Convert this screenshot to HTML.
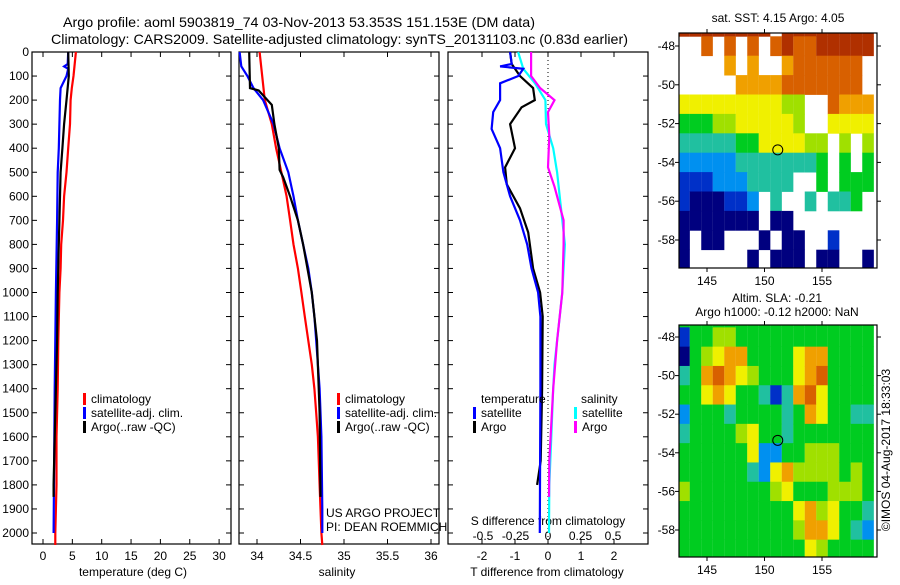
<!DOCTYPE html>
<html><head><meta charset="utf-8"><style>
body{margin:0;background:#fff;width:900px;height:580px;overflow:hidden}
svg text{font-family:"Liberation Sans",sans-serif;font-size:12px;fill:#000}
</style></head><body>
<svg id="chart" width="900" height="580" viewBox="0 0 900 580" xmlns="http://www.w3.org/2000/svg">
<text x="63" y="27" textLength="472" lengthAdjust="spacingAndGlyphs" style="font-size:14px">Argo profile: aoml 5903819_74 03-Nov-2013 53.353S 151.153E (DM data)</text>
<text x="51" y="44" textLength="577" lengthAdjust="spacingAndGlyphs" style="font-size:14px">Climatology: CARS2009. Satellite-adjusted climatology: synTS_20131103.nc (0.83d earlier)</text>
<g id="g"></g>
</svg>
<script>
// ---- data ----
const tDepth=[0,50,100,150,200,300,400,500,600,700,800,900,1000,1200,1400,1600,1800,2000,2050];
const tClim=[5.6,5.4,5.2,4.9,4.7,4.6,4.3,4.0,3.6,3.4,3.1,3.0,2.8,2.6,2.5,2.3,2.3,2.1,2.1];
const tSatDepth=[0,50,60,70,100,150,200,300,400,500,700,1000,1400,2000];
const tSat=[4.3,4.2,3.6,4.3,4.0,3.0,2.9,2.8,2.7,2.5,2.4,2.2,2.0,1.8];
const tArgoDepth=[0,100,200,300,400,500,600,800,1000,1200,1600,1800,1850];
const tArgo=[4.3,4.4,4.0,3.6,3.3,3.0,2.9,2.7,2.5,2.4,2.0,1.8,1.8];
const sClimDepth=[0,200,300,400,500,600,700,800,900,1000,1100,1200,1300,1400,1500,1600,1800,2000,2050];
const sClim=[34.03,34.09,34.17,34.22,34.28,34.34,34.38,34.42,34.47,34.51,34.55,34.59,34.63,34.66,34.68,34.70,34.72,34.74,34.75];
const sSatDepth=[0,60,100,150,200,300,400,500,600,700,800,900,1000,1100,1200,1400,1600,1900,2000];
const sSat=[33.80,33.82,33.89,33.96,34.07,34.19,34.26,34.36,34.42,34.47,34.53,34.59,34.63,34.66,34.68,34.72,34.74,34.75,34.75];
const sArgoDepth=[0,150,160,220,300,400,490,520,600,700,800,1000,1200,1500,1850];
const sArgo=[33.91,33.92,34.02,34.17,34.20,34.25,34.26,34.30,34.38,34.47,34.53,34.63,34.69,34.72,34.73];
const dTSatDepth=[0,50,60,70,100,130,200,250,320,400,500,600,700,800,900,1000,1100,1400,2000];
const dTSat=[-1.15,-1.1,-1.45,-0.75,-0.9,-1.45,-1.45,-1.66,-1.71,-1.45,-1.35,-1.15,-0.85,-0.63,-0.5,-0.3,-0.23,-0.23,-0.25];
const dTArgoDepth=[0,50,100,150,200,230,300,400,480,550,650,750,900,1000,1100,1400,1700,1800];
const dTArgo=[-1.15,-1.1,-0.85,-0.45,-0.4,-0.8,-1.15,-1.0,-1.3,-1.25,-0.85,-0.6,-0.45,-0.24,-0.16,-0.18,-0.22,-0.33];
const dSSatDepth=[0,70,130,200,300,400,500,600,700,800,900,1000,1100,1200,1300,1400,1600,1800,2000];
const dSSat=[-0.23,-0.19,-0.1,-0.02,-0.015,0.04,0.07,0.09,0.11,0.13,0.12,0.11,0.09,0.07,0.05,0.04,0.025,0.01,0.008];
const dSArgoDepth=[0,100,150,200,250,350,480,560,700,800,1000,1200,1400,1700,1850];
const dSArgo=[-0.13,-0.13,-0.06,0.05,0,0.01,0,0.05,0.12,0.12,0.11,0.07,0.04,0.01,0.008];
const depthTicks=[0,100,200,300,400,500,600,700,800,900,1000,1100,1200,1300,1400,1500,1600,1700,1800,1900,2000];
const tTicks=[0,5,10,15,20,25,30];
const sTicks=[34,34.5,35,35.5,36];
const sTickLabels=["34","34.5","35","35.5","36"];
const dTTicks=[-2,-1,0,1,2];
const dSTicks=[-0.5,-0.25,0,0.25,0.5];
const dSTickLabels=["-0.5","-0.25","0","0.25","0.5"];
const lonTicks=[145,150,155];
const latTicks=[-48,-50,-52,-54,-56,-58];
const mapLons=[143,144,145,146,147,148,149,150,151,152,153,154,155,156,157,158,159];
const mapLats=[-47,-48,-49,-50,-51,-52,-53,-54,-55,-56,-57,-58,-59];
const sstGrid=[
"99999999.99999999",
"..8.8.8.898899999",
"....7.7..7888888.",
".....77778888888.",
"66666666655..8777",
"44455666665..6666",
"3333344666655.5.5",
"2222233333334.4.4",
"1112223333..4.444",
"1000112.3..3.334.",
"0000000.00.......",
"0.00...0.00..1...",
"0.....0.000.00..0"];
const slaGrid=[
"44444444444444444",
"14455444444444444",
"04567744446774444",
"34787654446784444",
"44676443137864444",
"24443444434764433",
"34444564434444444",
"44444462244555444",
"44444432675555454",
"54444444564445554",
"44444444446756443",
"44444444445776432",
"44444444444654444"];
const argoLon=151.153, argoLat=-53.353;

// ---- helpers ----
const NS="http://www.w3.org/2000/svg";
const G=document.getElementById('g');
function mk(tag,attrs,parent){const e=document.createElementNS(NS,tag);for(const k in attrs)e.setAttribute(k,attrs[k]);(parent||G).appendChild(e);return e;}
const Y0=52,YPX=0.2405;
const yD=d=>Y0+d*YPX;
const TOP=52,BOT=544;
const xT=t=>43+t*5.87;
const xS=s=>257+(s-34)*87;
const xDT=t=>548+t*33;
const xDS=s=>548+s*130;
function line(xs,ds,xf,color,name){
  const pts=xs.map((v,i)=>xf(v).toFixed(1)+','+yD(ds[i]).toFixed(1)).join(' ');
  const p=mk('polyline',{points:pts,fill:'none',stroke:color,'stroke-width':2.2});
  
  
}
function frame(x0,x1,name){
  const r=mk('rect',{x:x0,y:TOP,width:x1-x0,height:BOT-TOP,fill:'none',stroke:'#000','stroke-width':1.2});
  
  
  depthTicks.forEach(d=>{mk('line',{x1:x0,x2:x0+5,y1:yD(d),y2:yD(d),stroke:'#000'});mk('line',{x1:x1-5,x2:x1,y1:yD(d),y2:yD(d),stroke:'#000'});});
}
function xticks(vals,labels,xf,y,name){
  vals.forEach((v,i)=>{
    mk('line',{x1:xf(v),x2:xf(v),y1:TOP,y2:TOP+5,stroke:'#000'});
    mk('line',{x1:xf(v),x2:xf(v),y1:BOT-5,y2:BOT,stroke:'#000'});
    const t=mk('text',{x:xf(v),y:y,'text-anchor':'middle'});t.textContent=labels[i];
    
    
  });
}
function txt(x,y,s,name,anchor,extra){const t=mk('text',Object.assign({x:x,y:y,'text-anchor':anchor||'start'},extra||{}));t.textContent=s;
  
  return t;}
function legend(x,y,color,label,name){
  mk('rect',{x:x,y:y-10,width:3,height:12,fill:color});
  txt(x+8,y,label,name);
}

// y labels
depthTicks.forEach(d=>{txt(29,yD(d)+4,String(d),'depth-tick-label','end');});

// panel 1
frame(32,231,'temperature-panel');
xticks(tTicks,tTicks.map(String),xT,560,'temperature-tick-label');
txt(133,576,'temperature (deg C)','temperature-axis-title','middle');
line(tClim,tDepth,xT,'#f00','temp-climatology-line');
line(tSat,tSatDepth,xT,'#00f','temp-satellite-line');
line(tArgo,tArgoDepth,xT,'#000','temp-argo-line');
legend(83,403,'#f00','climatology','legend-climatology');
legend(83,417,'#00f','satellite-adj. clim.','legend-satellite');
legend(83,431,'#000','Argo(..raw -QC)','legend-argo');

// panel 2
frame(239,439,'salinity-panel');
xticks(sTicks,sTickLabels,xS,560,'salinity-tick-label');
txt(337,576,'salinity','salinity-axis-title','middle');
line(sClim,sClimDepth,xS,'#f00','sal-climatology-line');
line(sSat,sSatDepth,xS,'#00f','sal-satellite-line');
line(sArgo,sArgoDepth,xS,'#000','sal-argo-line');
legend(337,403,'#f00','climatology','legend-climatology');
legend(337,417,'#00f','satellite-adj. clim.','legend-satellite');
legend(337,431,'#000','Argo(..raw -QC)','legend-argo');
txt(326,517,'US ARGO PROJECT','project-credit');
txt(326,531,'PI: DEAN ROEMMICH','pi-credit');

// panel 3
frame(448,648,'difference-panel');
mk('line',{x1:548,x2:548,y1:TOP,y2:BOT,stroke:'#000','stroke-dasharray':'1,3'});
dTTicks.forEach(v=>{mk('line',{x1:xDT(v),x2:xDT(v),y1:TOP,y2:TOP+5,stroke:'#000'});mk('line',{x1:xDT(v),x2:xDT(v),y1:BOT-5,y2:BOT,stroke:'#000'});txt(xDT(v),560,String(v),'t-diff-tick-label','middle');});
dSTicks.forEach((v,i)=>{txt(xDS(v),540,dSTickLabels[i],'s-diff-tick-label','middle');});
txt(548,525,'S difference from climatology','s-diff-axis-title','middle');
txt(547,576,'T difference from climatology','t-diff-axis-title','middle');
line(dSSat,dSSatDepth,xDS,'#0ff','sdiff-satellite-line');
line(dSArgo,dSArgoDepth,xDS,'#f0f','sdiff-argo-line');
line(dTArgo,dTArgoDepth,xDT,'#000','tdiff-argo-line');
line(dTSat,dTSatDepth,xDT,'#00f','tdiff-satellite-line');
txt(481,403,'temperature','legend-temperature-heading');
legend(473,417,'#00f','satellite','legend-t-satellite');
legend(473,431,'#000','Argo','legend-t-argo');
txt(581,403,'salinity','legend-salinity-heading');
legend(574,417,'#0ff','satellite','legend-s-satellite');
legend(574,431,'#f0f','Argo','legend-s-argo');

// maps
const cmap=['#00007f','#0030c8','#0090f0','#20c0a0','#00cc20','#a0e000','#f0f000','#f0a000','#d86000','#b03000'];
function map(grid,x0,x1,y0,y1,latY,latS,name){
  const lx=lon=>707+(lon-145)*11.5;
  const ly=lat=>latY+(-48-lat)*latS;
  const clip='clip-'+name;
  const cp=mk('clipPath',{id:clip});mk('rect',{x:x0,y:y0,width:x1-x0,height:y1-y0},cp);
  const g=mk('g',{'clip-path':'url(#'+clip+')'});
  
  
  grid.forEach((row,r)=>{for(let c=0;c<row.length;c++){const ch=row[c];if(ch==='.')continue;
    mk('rect',{x:lx(mapLons[c]-0.5),y:ly(mapLats[r]+0.5),width:11.6,height:latS+0.4,fill:cmap[+ch]},g);}});
  const f=mk('rect',{x:x0,y:y0,width:x1-x0,height:y1-y0,fill:'none',stroke:'#000','stroke-width':1.2});
  
  
  lonTicks.forEach(v=>{mk('line',{x1:lx(v),x2:lx(v),y1:y1,y2:y1+4,stroke:'#000'});mk('line',{x1:lx(v),x2:lx(v),y1:y0-4,y2:y0,stroke:'#000'});txt(lx(v),y1+17,String(v),'lon-tick-label','middle');});
  latTicks.forEach(v=>{mk('line',{x1:x0-4,x2:x0,y1:ly(v),y2:ly(v),stroke:'#000'});mk('line',{x1:x1,x2:x1+4,y1:ly(v),y2:ly(v),stroke:'#000'});txt(x0-4,ly(v)+4,String(v),'lat-tick-label','end');});
  const m=mk('circle',{cx:lx(argoLon),cy:ly(argoLat),r:5,fill:'none',stroke:'#000'});
  
  
}
map(sstGrid,679,877,33,268,46,19.4,'sst-map');
map(slaGrid,679,877,325,557,337,19.3,'sla-map');
txt(778,22,'sat. SST: 4.15 Argo: 4.05','sst-map-title','middle');
txt(777,302,'Altim. SLA: -0.21','sla-map-title','middle');
txt(777,316,'Argo h1000: -0.12 h2000: NaN','sla-map-subtitle','middle');
txt(0,0,'©IMOS 04-Aug-2017 18:33:03','timestamp-credit','middle',{transform:'translate(890,450) rotate(-90)'});
</script>
</body></html>
